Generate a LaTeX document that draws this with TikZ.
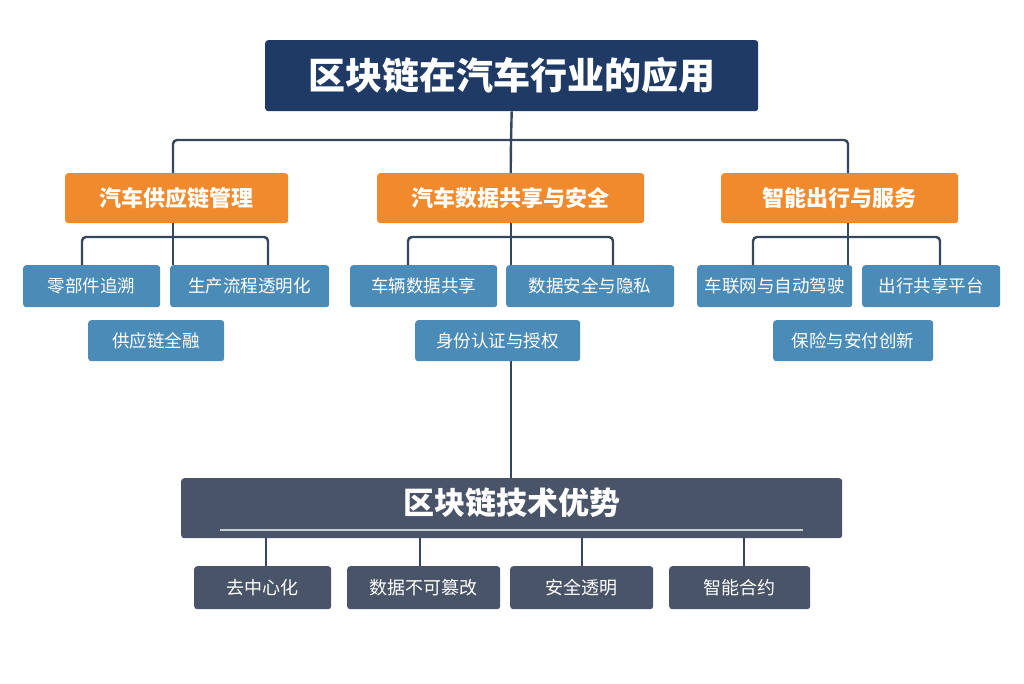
\documentclass[tikz,border=0pt]{standalone}
\usepackage{fontspec}
\newfontfamily\cjk{Noto Sans CJK SC}
\begin{document}
\begin{tikzpicture}[x=1pt,y=-1pt,
 ln/.style={draw=lnc,line width=2.4pt,rounded corners=4pt},
 bx/.style={rounded corners=3pt,text=white,font=\cjk,inner sep=0pt,anchor=north west},
 sub/.style={bx,fill=subc,font=\cjk\fontsize{17.5}{17.5}\selectfont},
 cat/.style={bx,fill=catc,font=\cjk\bfseries\fontsize{22}{22}\selectfont},
 adv/.style={bx,fill=advc,font=\cjk\fontsize{18}{18}\selectfont}]
\definecolor{lnc}{HTML}{36465E}
\definecolor{subc}{HTML}{4B8BB8}
\definecolor{catc}{HTML}{F08A2C}
\definecolor{advc}{HTML}{4A5469}
\definecolor{topc}{HTML}{1F3A64}
\useasboundingbox (0,0) rectangle (1024,683);
\fill[white] (0,0) rectangle (1024,683);
\coordinate (h1) at (173,140); \coordinate (h3) at (848,140);
\coordinate (v6) at (511,361);
\node[bx,fill=topc,minimum width=493,minimum height=71,font=\cjk\bfseries\fontsize{37}{37}\selectfont] (top) at (265,40) {区块链在汽车行业的应用};
\node[cat,minimum width=223,minimum height=50] (c1) at (65,173) {汽车供应链管理};
\node[cat,minimum width=267,minimum height=50] (c2) at (377,173) {汽车数据共享与安全};
\node[cat,minimum width=237,minimum height=50] (c3) at (721,173) {智能出行与服务};
\draw[ln] (top.south) -- (511,140);
\draw[ln] (c1.north -| h1) -- (h1) -- (h3) -- (c3.north -| h3);
\draw[ln] (511,140) -- (c2.north);
\node[sub,minimum width=137,minimum height=42] (s1) at (23,265) {零部件追溯};
\node[sub,minimum width=159,minimum height=42] (s2) at (170,265) {生产流程透明化};
\node[sub,minimum width=136,minimum height=41] (s3) at (88,320) {供应链全融};
\node[sub,minimum width=147,minimum height=42] (s4) at (350,265) {车辆数据共享};
\node[sub,minimum width=168,minimum height=42] (s5) at (506,265) {数据安全与隐私};
\node[sub,minimum width=165,minimum height=41] (s6) at (415,320) {身份认证与授权};
\node[sub,minimum width=155,minimum height=42] (s7) at (697,265) {车联网与自动驾驶};
\node[sub,minimum width=138,minimum height=42] (s8) at (862,265) {出行共享平台};
\node[sub,minimum width=160,minimum height=41] (s9) at (773,320) {保险与安付创新};
\draw[ln] (82,265) -- (82,237) -- (268,237) -- (268,265);
\draw[ln] (c1.south -| 173,0) -- (173,265);
\draw[ln] (408,265) -- (408,237) -- (613,237) -- (613,265);
\draw[ln] (c2.south -| 511,0) -- (511,265);
\draw[ln] (753,265) -- (753,237) -- (940,237) -- (940,265);
\draw[ln] (c3.south -| 848,0) -- (848,265);
\node[bx,fill=advc,minimum width=661,minimum height=60,font=\cjk\bfseries\fontsize{31}{31}\selectfont,text depth=14pt] (adv) at (181,478) {区块链技术优势};
\draw[white!70!advc,line width=1.5pt] (220,530) -- (803,530);
\draw[ln] (v6) -- (adv.north -| v6);
\node[adv,minimum width=137,minimum height=43] (a1) at (194,566) {去中心化};
\node[adv,minimum width=153,minimum height=43] (a2) at (347,566) {数据不可篡改};
\node[adv,minimum width=143,minimum height=43] (a3) at (510,566) {安全透明};
\node[adv,minimum width=141,minimum height=43] (a4) at (669,566) {智能合约};
\foreach \x/\n in {266/a1,420/a2,582/a3,744/a4} \draw[ln] (\x,538) -- (\n.north -| \x,0);
\end{tikzpicture}
\end{document}
